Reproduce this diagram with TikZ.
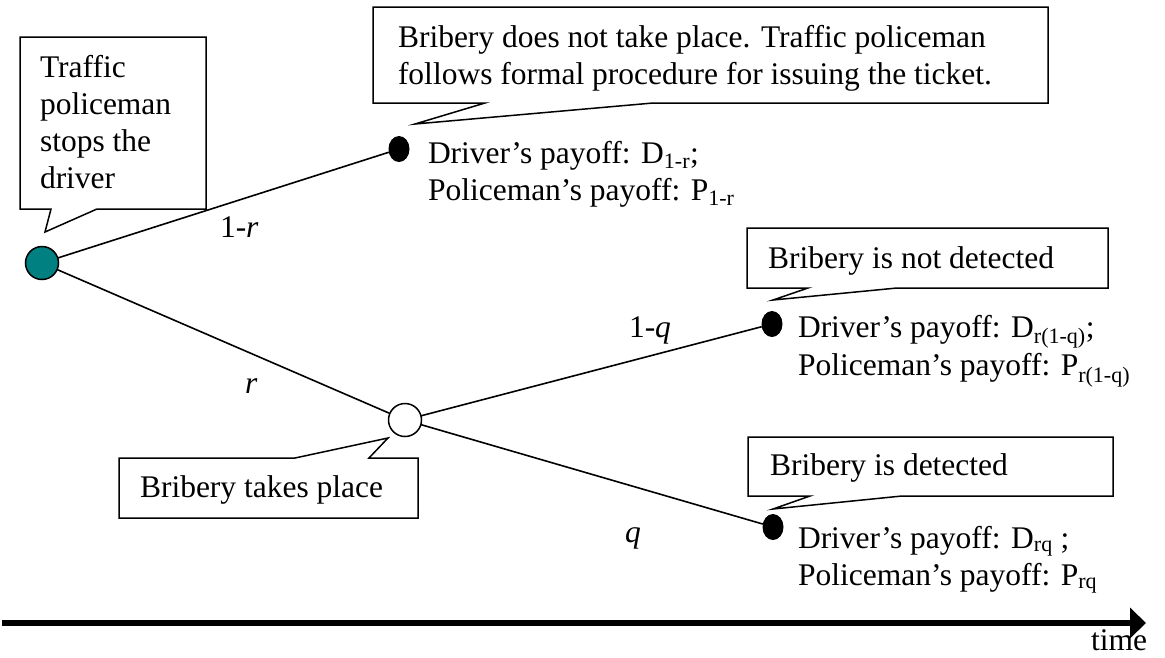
\documentclass[tikz,border=0pt]{standalone}
\usepackage{fontspec}
\setmainfont{Liberation Serif}
\usetikzlibrary{arrows.meta,shapes.geometric}
\definecolor{teal0}{RGB}{0,128,128}
\begin{document}
\begin{tikzpicture}[x=1pt,y=-1pt,
  every node/.style={font=\fontsize{31.5}{37}\selectfont, inner sep=0pt, outer sep=0pt},
  txt/.style={anchor=base west},
  mtxt/.style={anchor=north west, align=left},
  calloutline/.style={draw=black, line width=1.5pt, line join=miter, fill=white},
  edge/.style={draw=black, line width=1.6pt},
  chance/.style={circle, draw=black, line width=1.5pt, minimum size=33pt},
  endpt/.style={ellipse, fill=black, minimum width=21pt, minimum height=26pt},
  timeaxis/.style={line width=6pt, -{Triangle[length=16pt,width=30pt]}}
]
\useasboundingbox (0,0) rectangle (1165,657);

% tree nodes
\node[chance, fill=teal0] (g) at (42,263) {};
\node[chance, fill=white] (w) at (405,420) {};
\node[endpt] (d1) at (399,149) {};
\node[endpt] (d2) at (772,324) {};
\node[endpt] (d3) at (773,527) {};

% branches
\draw[edge] (g) -- (d1);
\draw[edge] (g) -- (w);
\draw[edge] (w) -- (d2);
\draw[edge] (w) -- (d3);

% branch labels
\node[txt] (l1r) at (220,237) {1-\textit{r}};
\node[txt] (lr) at (245,393) {\textit{r}};
\node[txt] (l1q) at (629,337) {1-\textit{q}};
\node[txt] (lq) at (625,542) {\textit{q}};

% callouts
\draw[calloutline] (20,37) -- (206,37) -- (206,209) -- (97,209) -- (45,232) -- (51,209) -- (20,209) -- cycle;
\node[mtxt] (c1) at (40,{77-25.9}) {\strut Traffic\\\strut policeman\\\strut stops the\\\strut driver};

\draw[calloutline] (373,7) -- (1048,7) -- (1048,103) -- (653,103) -- (415,124) -- (485,103) -- (373,103) -- cycle;
\node[mtxt] (c2) at (398,{47-25.9}) {\strut Bribery does not take place. Traffic policeman\\\strut follows formal procedure for issuing the ticket.};

\draw[calloutline] (119,458) -- (295,458) -- (388,438) -- (369,458) -- (418,458) -- (418,518) -- (119,518) -- cycle;
\node[txt] (c3) at (140,497) {Bribery takes place};

\draw[calloutline] (747,228) -- (1108,228) -- (1108,288) -- (897,288) -- (773,300) -- (808,288) -- (747,288) -- cycle;
\node[txt] (c4) at (768,268) {Bribery is not detected};

\draw[calloutline] (748,437) -- (1113,437) -- (1113,496) -- (902,496) -- (773,509) -- (810,496) -- (748,496) -- cycle;
\node[txt] (c5) at (770,475) {Bribery is detected};

% payoffs
\node[mtxt] (p1) at (428,{163-25.9}) {\strut Driver’s payoff: D\textsubscript{1-r};\\\strut Policeman’s payoff: P\textsubscript{1-r}};
\node[mtxt] (p2) at (798,{337-25.9}) {\strut Driver’s payoff: D\textsubscript{r(1-q)};\\\strut Policeman’s payoff: P\textsubscript{r(1-q)}};
\node[mtxt] (p3) at (798,{548-25.9}) {\strut Driver’s payoff: D\textsubscript{rq} ;\\\strut Policeman’s payoff: P\textsubscript{rq}};

% time axis
\coordinate (t0) at (2,623);
\coordinate (t1) at (1146,623);
\draw[timeaxis] (t0) -- (t1);
\node[anchor=base east] (time) at (1147,650) {time};
\end{tikzpicture}
\end{document}
